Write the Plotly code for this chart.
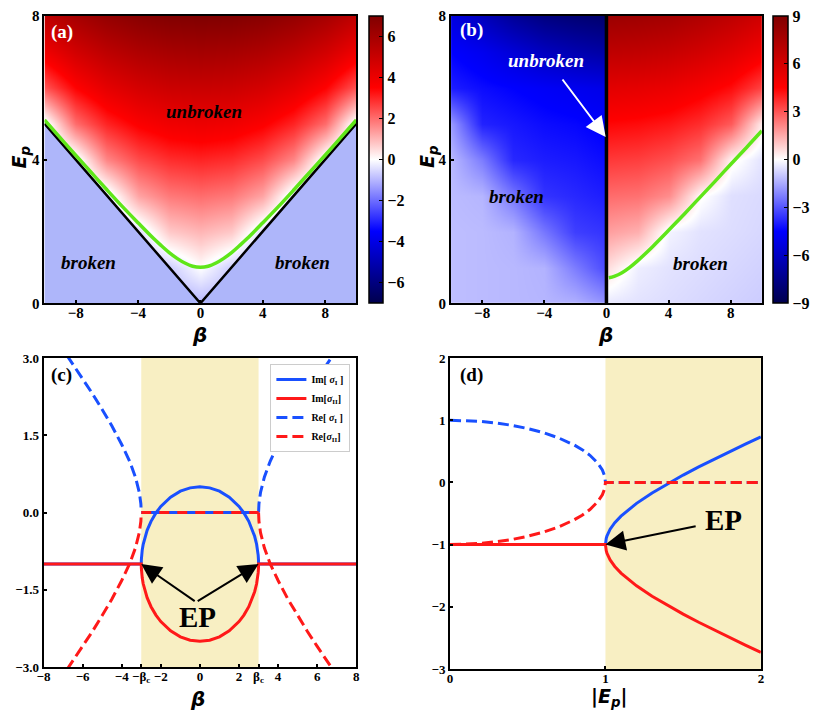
import plotly.graph_objects as go

W, H = 830, 719

SEISMIC = [[0.0, "rgb(0,0,77)"], [0.25, "rgb(0,0,255)"], [0.5, "rgb(255,255,255)"],
           [0.75, "rgb(255,0,0)"], [1.0, "rgb(128,0,0)"]]
BLUE = "rgb(25,80,255)"
RED = "rgb(255,25,25)"
GREEN = "rgb(95,230,25)"
SHADE = "#f8efc3"
BROKEN_A = "rgb(174,182,250)"
SERIF = "Liberation Serif"
SANS = "DejaVu Sans"

# ---------------- panel (a): map over beta / E_p ----------------
grid_ep = [0, 1, 2, 3, 4, 5, 6, 7, 8]
grid_beta_a = [-10, -8, -6, -4, -2, 0, 2, 4, 6, 8, 10]
z_a = [
    [-1, -1, -1, -1, -1, -1, -1, -1, -1, -1, -1],
    [-1, -1, -1, -1, -0.7, 0, -0.7, -1, -1, -1, -1],
    [-1, -1, -1, -0.5, 0.73, 1.0, 0.73, -0.5, -1, -1, -1],
    [-1, -1, -0.4, 1.24, 1.83, 2.0, 1.83, 1.24, -0.4, -1, -1],
    [-1, -0.3, 1.65, 2.46, 2.87, 3.0, 2.87, 2.46, 1.65, -0.3, -1],
    [-0.3, 2.0, 3.0, 3.58, 3.9, 4.0, 3.9, 3.58, 3.0, 2.0, -0.3],
    [2.32, 3.47, 4.2, 4.66, 4.92, 5.0, 4.92, 4.66, 4.2, 3.47, 2.32],
    [3.9, 4.74, 5.32, 5.71, 5.93, 6.0, 5.93, 5.71, 5.32, 4.74, 3.9],
    [5.24, 5.93, 6.42, 6.75, 6.94, 7.0, 6.94, 6.75, 6.42, 5.93, 5.24],
]
v_beta = [-10, 0, 10]          # black V boundary
v_ep = [5, 0, 5]
green_beta_a = [-10, -9, -8, -7, -6, -5, -4, -3, -2.5, -2, -1.5, -1, -0.5, 0,
                0.5, 1, 1.5, 2, 2.5, 3, 4, 5, 6, 7, 8, 9, 10]
green_ep_a = [5.10, 4.61, 4.12, 3.64, 3.16, 2.69, 2.24, 1.80, 1.60, 1.41, 1.25, 1.12, 1.03, 1.0,
              1.03, 1.12, 1.25, 1.41, 1.60, 1.80, 2.24, 2.69, 3.16, 3.64, 4.12, 4.61, 5.10]

# ---------------- panel (b) ----------------
grid_beta_b = [-10, -8, -6, -4, -2, -0.05, 0.05, 2, 4, 6, 8, 10]
z_b = [
    [-1.15, -1.2, -1.25, -1.3, -1.4, -1.9, -0.4, -0.5, -0.6, -0.7, -0.8, -0.9],
    [-1.15, -1.2, -1.25, -1.35, -2.3, -3.2, 0.6, -0.3, -0.5, -0.6, -0.7, -0.8],
    [-1.15, -1.2, -1.35, -2.4, -3.4, -3.6, 1.7, 1.4, -0.2, -0.5, -0.6, -0.7],
    [-1.2, -1.3, -2.4, -3.6, -3.8, -4.0, 2.6, 2.5, 2.0, 0.1, -0.55, -0.65],
    [-1.25, -2.3, -3.8, -4.0, -4.1, -4.3, 3.5, 3.4, 3.1, 2.5, 0.2, -0.5],
    [-1.8, -3.9, -4.1, -4.3, -4.4, -4.6, 4.4, 4.3, 4.1, 3.7, 2.9, 0.3],
    [-4.0, -4.3, -4.5, -4.7, -4.9, -5.1, 5.5, 5.4, 5.2, 4.8, 4.3, 3.3],
    [-4.5, -4.9, -5.5, -6.1, -6.5, -6.8, 6.8, 6.7, 6.5, 6.1, 5.6, 4.9],
    [-5.3, -6.2, -7.1, -7.7, -8.0, -8.2, 8.0, 7.9, 7.7, 7.3, 6.8, 6.2],
]
green_beta_b = [0.15, 0.5, 1, 1.5, 2, 3, 4, 5, 6, 7, 8, 9, 10]
green_ep_b = [0.71, 0.75, 0.85, 1.00, 1.18, 1.59, 2.03, 2.48, 2.94, 3.40, 3.87, 4.33, 4.80]

# ---------------- panel (c): sigma vs beta ----------------
beta_c = 3.0
beta_in = [-3, -2.995, -2.98, -2.95, -2.9, -2.8, -2.7, -2.5, -2.25, -2, -1.5, -1, -0.5, 0,
           0.5, 1, 1.5, 2, 2.25, 2.5, 2.7, 2.8, 2.9, 2.95, 2.98, 2.995, 3]
im1_in = [-1, -0.913, -0.827, -0.727, -0.616, -0.462, -0.346, -0.171, -0.008, 0.118, 0.299, 0.414, 0.479, 0.5,
          0.479, 0.414, 0.299, 0.118, -0.008, -0.171, -0.346, -0.462, -0.616, -0.727, -0.827, -0.913, -1]
im2_in = [-1, -1.087, -1.173, -1.273, -1.384, -1.538, -1.654, -1.829, -1.992, -2.118, -2.299, -2.414, -2.479, -2.5,
          -2.479, -2.414, -2.299, -2.118, -1.992, -1.829, -1.654, -1.538, -1.384, -1.273, -1.173, -1.087, -1]
beta_out_l = [-6.8, -6.5, -6, -5.5, -5, -4.5, -4, -3.6, -3.3, -3.1, -3.02, -3]
beta_out_r = [3, 3.02, 3.1, 3.3, 3.6, 4, 4.5, 5, 5.5, 6, 6.5, 6.8]
re1_out_l = [3.05, 2.88, 2.60, 2.31, 2.0, 1.68, 1.32, 1.0, 0.69, 0.39, 0.17, 0]
re1_out_r = [0, 0.17, 0.39, 0.69, 1.0, 1.32, 1.68, 2.0, 2.31, 2.60, 2.88, 3.05]
re2_out_l = [-3.05, -2.88, -2.60, -2.31, -2.0, -1.68, -1.32, -1.0, -0.69, -0.39, -0.17, 0]
re2_out_r = [0, -0.17, -0.39, -0.69, -1.0, -1.32, -1.68, -2.0, -2.31, -2.60, -2.88, -3.05]

# ---------------- panel (d): sigma vs |E_p| ----------------
ep_lo = [0, 0.1, 0.2, 0.3, 0.4, 0.5, 0.6, 0.7, 0.8, 0.85, 0.9, 0.95, 0.98, 0.995, 1.0]
re1_lo = [1.0, 0.995, 0.98, 0.954, 0.917, 0.866, 0.80, 0.714, 0.60, 0.527, 0.436, 0.312, 0.199, 0.10, 0.0]
re2_lo = [-1.0, -0.995, -0.98, -0.954, -0.917, -0.866, -0.80, -0.714, -0.60, -0.527, -0.436, -0.312, -0.199, -0.10, 0.0]
ep_hi = [1.0, 1.005, 1.01, 1.03, 1.06, 1.1, 1.2, 1.3, 1.4, 1.5, 1.6, 1.7, 1.8, 1.9, 2.0]
im1_hi = [-1, -0.90, -0.858, -0.753, -0.648, -0.542, -0.337, -0.169, -0.020, 0.118, 0.249, 0.375, 0.497, 0.616, 0.732]
im2_hi = [-1, -1.10, -1.142, -1.247, -1.352, -1.458, -1.663, -1.831, -1.980, -2.118, -2.249, -2.375, -2.497, -2.616, -2.732]

# tick labels
ticks_beta = [-8, -4, 0, 4, 8]
ticks_ep = [0, 4, 8]
ticks_c_x = [-8, -6, -4, -3, -2, 0, 2, 3, 4, 6, 8]
labels_c_x = ["−8", "−6", "−4", "−β<sub>c</sub>", "−2", "0", "2", "β<sub>c</sub>", "4", "6", "8"]
ticks_c_y = [-3, -1.5, 0, 1.5, 3]
labels_c_y = ["−3.0", "−1.5", "0.0", "1.5", "3.0"]
ticks_d_x = [0, 1, 2]
ticks_d_y = [-3, -2, -1, 0, 1, 2]
ticks_cb_a = [-6, -4, -2, 0, 2, 4, 6]
ticks_cb_b = [-9, -6, -3, 0, 3, 6, 9]


def num(v):
    s = f"{v:g}"
    return s.replace("-", "−")


def bold(labels):
    return [f"<b>{t}</b>" for t in labels]


fig = go.Figure()

# (a)
fig.add_trace(go.Heatmap(x=grid_beta_a, y=grid_ep, z=z_a, zsmooth="best",
                         coloraxis="coloraxis", xaxis="x", yaxis="y", hoverinfo="skip"))
fig.add_trace(go.Scatter(x=[v_beta[0]] + v_beta + [v_beta[-1]], y=[0] + v_ep + [0],
                         fill="toself", fillcolor=BROKEN_A, mode="lines", line=dict(width=0),
                         showlegend=False, xaxis="x", yaxis="y"))
fig.add_trace(go.Scatter(x=v_beta, y=v_ep, mode="lines", line=dict(color="black", width=2.5),
                         showlegend=False, xaxis="x", yaxis="y"))
fig.add_trace(go.Scatter(x=green_beta_a, y=green_ep_a, mode="lines", line=dict(color=GREEN, width=3.5, shape="spline"),
                         showlegend=False, xaxis="x", yaxis="y"))

# (b)
fig.add_trace(go.Heatmap(x=grid_beta_b, y=grid_ep, z=z_b, zsmooth="best",
                         coloraxis="coloraxis2", xaxis="x2", yaxis="y2", hoverinfo="skip"))
fig.add_trace(go.Scatter(x=[0, 0], y=[0, 8], mode="lines", line=dict(color="black", width=3.5),
                         showlegend=False, xaxis="x2", yaxis="y2"))
fig.add_trace(go.Scatter(x=green_beta_b, y=green_ep_b, mode="lines", line=dict(color=GREEN, width=3.5, shape="spline"),
                         showlegend=False, xaxis="x2", yaxis="y2"))

# (c)
DASH = "11px,5px"
fig.add_trace(go.Scatter(x=[-8] + beta_in + [8], y=[-1] + im1_in + [-1], mode="lines",
                         line=dict(color=BLUE, width=3), name="Im[ <i>σ</i><sub>I</sub> ]",
                         xaxis="x3", yaxis="y3"))
fig.add_trace(go.Scatter(x=[-8] + beta_in + [8], y=[-1] + im2_in + [-1], mode="lines",
                         line=dict(color=RED, width=3), name="Im[<i>σ</i><sub>II</sub>]",
                         xaxis="x3", yaxis="y3"))
fig.add_trace(go.Scatter(x=beta_out_l, y=re1_out_l, mode="lines", line=dict(color=BLUE, width=3, dash=DASH),
                         name="Re[ <i>σ</i><sub>I</sub> ]", xaxis="x3", yaxis="y3"))
fig.add_trace(go.Scatter(x=beta_out_r, y=re1_out_r, mode="lines", line=dict(color=BLUE, width=3, dash=DASH),
                         showlegend=False, xaxis="x3", yaxis="y3"))
fig.add_trace(go.Scatter(x=[-beta_c, beta_c], y=[0, 0], mode="lines", line=dict(color=BLUE, width=3),
                         showlegend=False, xaxis="x3", yaxis="y3"))
fig.add_trace(go.Scatter(x=beta_out_l, y=re2_out_l, mode="lines", line=dict(color=RED, width=3, dash=DASH),
                         name="Re[<i>σ</i><sub>II</sub>]", xaxis="x3", yaxis="y3"))
fig.add_trace(go.Scatter(x=beta_out_r, y=re2_out_r, mode="lines", line=dict(color=RED, width=3, dash=DASH),
                         showlegend=False, xaxis="x3", yaxis="y3"))
fig.add_trace(go.Scatter(x=[-beta_c, beta_c], y=[0, 0], mode="lines", line=dict(color=RED, width=3, dash="10px,8px"),
                         showlegend=False, xaxis="x3", yaxis="y3"))

# (d)
fig.add_trace(go.Scatter(x=[0] + ep_hi, y=[-1] + im1_hi, mode="lines", line=dict(color=BLUE, width=3),
                         showlegend=False, xaxis="x4", yaxis="y4"))
fig.add_trace(go.Scatter(x=ep_lo + [2], y=re1_lo + [0], mode="lines", line=dict(color=BLUE, width=3, dash=DASH),
                         showlegend=False, xaxis="x4", yaxis="y4"))
fig.add_trace(go.Scatter(x=[0] + ep_hi, y=[-1] + im2_hi, mode="lines", line=dict(color=RED, width=3),
                         showlegend=False, xaxis="x4", yaxis="y4"))
fig.add_trace(go.Scatter(x=ep_lo + [2], y=re2_lo + [0], mode="lines", line=dict(color=RED, width=3, dash=DASH),
                         showlegend=False, xaxis="x4", yaxis="y4"))


def frame(vals, labels=None, size=15, **kw):
    labels = labels or [num(v) for v in vals]
    base = dict(showline=True, mirror=True, linecolor="black", linewidth=2,
                tickvals=vals, ticktext=bold(labels),
                ticks="inside", ticklen=3, tickwidth=1.5, tickcolor="black", tickangle=0,
                showgrid=False, zeroline=False, fixedrange=True,
                tickfont=dict(family=SERIF, size=size, color="black"))
    base.update(kw)
    return base


def cbar(x, thick, vals):
    return dict(x=x / W, xanchor="left", y=1 - 155 / H, yanchor="middle",
                len=294 / H, lenmode="fraction", thickness=thick, thicknessmode="pixels",
                outlinewidth=1.5, outlinecolor="black",
                tickvals=vals, ticktext=bold([num(v) for v in vals]),
                ticks="inside", ticklen=4, tickcolor="black", xpad=0, ypad=0,
                tickfont=dict(family=SERIF, size=16, color="black"))


ya_top = [1 - 302 / H, 1 - 8 / H]
fig.update_layout(
    xaxis=frame(ticks_beta, domain=[38 / W, 354 / W], anchor="y", range=[-10, 10], ticklabelstandoff=-5),
    yaxis=frame(ticks_ep, domain=ya_top, anchor="x", range=[0, 8]),
    xaxis2=frame(ticks_beta, domain=[450 / W, 765 / W], anchor="y2", range=[-10, 10], ticklabelstandoff=-5),
    yaxis2=frame(ticks_ep, domain=ya_top, anchor="x2", range=[0, 8]),
    xaxis3=frame(ticks_c_x, labels_c_x, 13, domain=[37 / W, 354 / W], anchor="y3", range=[-8, 8],
                 ticklabelstandoff=-4),
    yaxis3=frame(ticks_c_y, labels_c_y, 13, domain=[1 - 674 / H, 1 - 358 / H], anchor="x3", range=[-3, 3]),
    xaxis4=frame(ticks_d_x, None, 13, domain=[449 / W, 764 / W], anchor="y4", range=[0, 2],
                 ticklabelstandoff=-4),
    yaxis4=frame(ticks_d_y, None, 13, domain=[1 - 676 / H, 1 - 358 / H], anchor="x4", range=[-3, 2]),
    coloraxis=dict(colorscale=SEISMIC, cmin=-7, cmax=7, colorbar=cbar(367, 14, ticks_cb_a)),
    coloraxis2=dict(colorscale=SEISMIC, cmin=-9, cmax=9, colorbar=cbar(776, 15, ticks_cb_b)),
    shapes=[
        dict(type="rect", xref="x3", yref="y3 domain", x0=-beta_c, x1=beta_c, y0=0, y1=1,
             fillcolor=SHADE, line=dict(width=0), layer="below"),
        dict(type="rect", xref="x4", yref="y4 domain", x0=1, x1=2, y0=0, y1=1,
             fillcolor=SHADE, line=dict(width=0), layer="below"),
    ],
    legend=dict(x=348 / W, xanchor="right", y=1 - 364 / H, yanchor="top",
                bgcolor="white", bordercolor="#cccccc", borderwidth=1,
                font=dict(family=SERIF, size=10, color="black", weight="bold"),
                tracegroupgap=0, itemwidth=30),
    width=W, height=H, margin=dict(l=0, r=0, t=0, b=0),
    paper_bgcolor="white", plot_bgcolor="white",
)


def label(text, x, y, xref, yref, size=19, color="black", family=SERIF, **kw):
    fig.add_annotation(text=text, x=x, y=y, xref=xref, yref=yref, showarrow=False,
                       xanchor="center", yanchor="middle",
                       font=dict(family=family, size=size, color=color), **kw)


def arrow(x, y, ax, ay, xr, yr, color="black"):
    fig.add_annotation(text="", x=x, y=y, ax=ax, ay=ay, xref=xr, yref=yr, axref=xr, ayref=yr,
                       showarrow=True, arrowhead=2, arrowsize=2, arrowwidth=2, arrowcolor=color)


# panel texts
label("<b>(a)</b>", -8.86, 7.56, "x", "y", color="white")
label("<b><i>unbroken</i></b>", 0.25, 5.33, "x", "y")
label("<b><i>broken</i></b>", -7.2, 1.14, "x", "y")
label("<b><i>broken</i></b>", 6.58, 1.14, "x", "y")

label("<b>(b)</b>", -8.67, 7.6, "x2", "y2", color="white")
label("<b><i>unbroken</i></b>", -3.9, 6.77, "x2", "y2", color="white")
arrow(-0.05, 4.63, -2.9, 6.27, "x2", "y2", color="white")
label("<b><i>broken</i></b>", -5.77, 2.97, "x2", "y2")
label("<b><i>broken</i></b>", 6.02, 1.12, "x2", "y2")

label("<b>(c)</b>", -7.09, 2.68, "x3", "y3")
label("<b>EP</b>", -0.12, -2.02, "x3", "y3", size=29)
arrow(-beta_c, -1, -0.19, -1.74, "x3", "y3")
arrow(beta_c, -1, -0.19, -1.74, "x3", "y3")

label("<b>(d)</b>", 0.14, 1.72, "x4", "y4")
label("<b>EP</b>", 1.757, -0.61, "x4", "y4", size=29)
arrow(1.0, -1.0, 1.59, -0.70, "x4", "y4")

# axis titles
label("<b><i>β</i></b>", 195 / W, 1 - 334 / H, "paper", "paper", size=20, family=SANS)
label("<b><i>β</i></b>", 607 / W, 1 - 334 / H, "paper", "paper", size=20, family=SANS)
label("<b><i>β</i></b>", 193 / W, 1 - 707 / H, "paper", "paper", size=20, family=SANS)
label("<b>|<i>E</i><sub><i>p</i></sub>|</b>", 610 / W, 1 - 705 / H, "paper", "paper", size=19, family=SANS)
label("<b><i>E</i><sub><i>p</i></sub></b>", 14 / W, 1 - 152 / H, "paper", "paper", size=19, family=SANS, textangle=-90)
label("<b><i>E</i><sub><i>p</i></sub></b>", 427 / W, 1 - 152 / H, "paper", "paper", size=19, family=SANS, textangle=-90)

fig.write_html("out.html", config={"displayModeBar": False},
               post_script="document.body.style.margin='0px';")
